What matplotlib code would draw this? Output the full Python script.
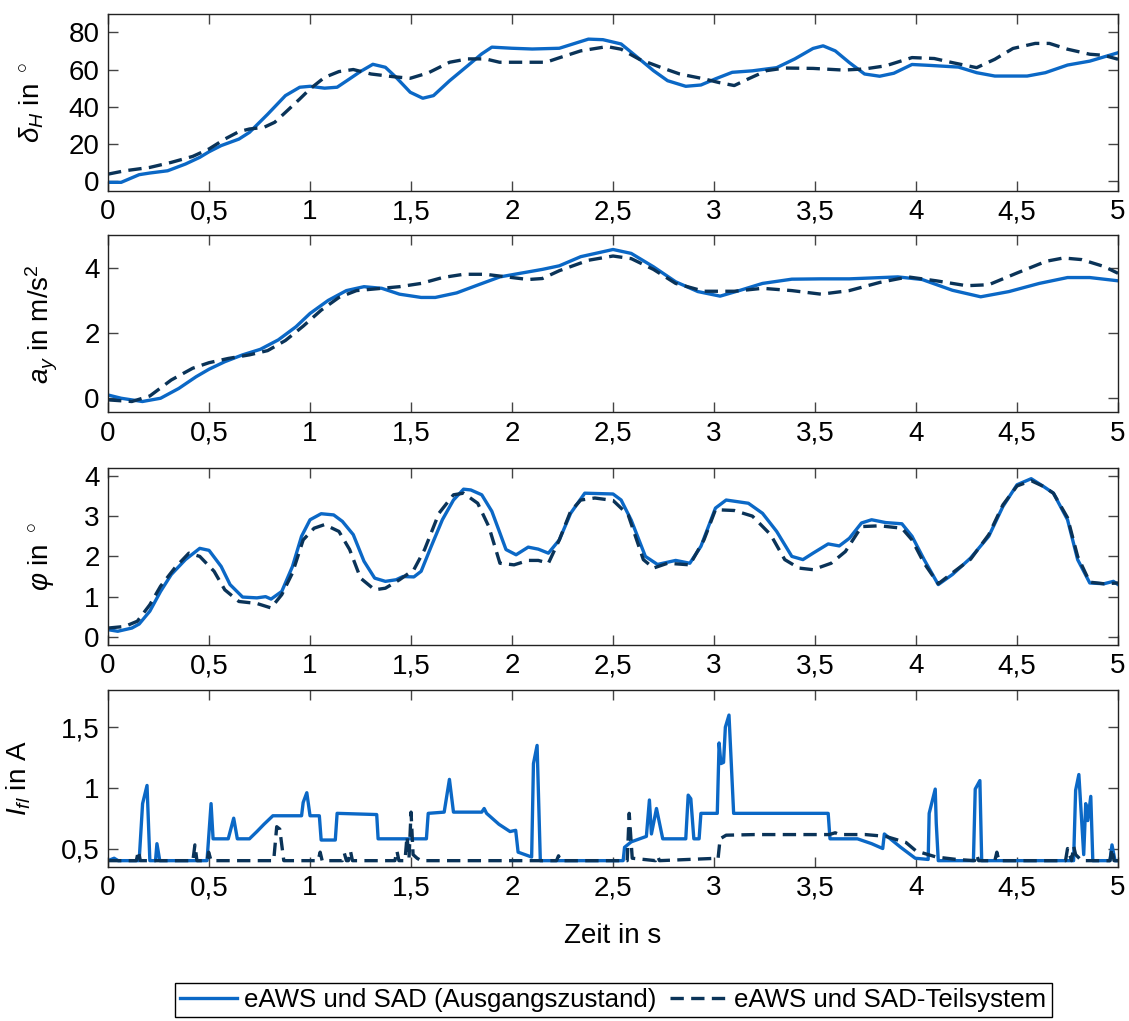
import matplotlib
matplotlib.use("Agg")
import matplotlib.pyplot as plt
import matplotlib.ticker as mticker

plt.rcParams["font.family"] = ["Liberation Sans", "DejaVu Sans"]
plt.rcParams["mathtext.fontset"] = "custom"
plt.rcParams["mathtext.rm"] = "Liberation Sans"
plt.rcParams["mathtext.it"] = "Liberation Sans:italic"

# steering wheel angle delta_H in deg
t1_solid = [0, 0.065, 0.154, 0.207, 0.295, 0.383, 0.454, 0.5, 0.56, 0.648, 0.70, 0.79, 0.878,
            0.949, 1.0, 1.072, 1.134, 1.196, 1.249, 1.311, 1.373, 1.426, 1.496, 1.558, 1.611,
            1.691, 1.78, 1.85, 1.90, 2.0, 2.1, 2.234, 2.378, 2.45, 2.54, 2.61, 2.70, 2.77, 2.86,
            2.935, 3.007, 3.09, 3.19, 3.31, 3.40, 3.49, 3.54, 3.60, 3.67, 3.745, 3.82, 3.89, 3.98,
            4.07, 4.21, 4.30, 4.39, 4.55, 4.64, 4.75, 4.86, 5.0]
d1_solid = [-0.5, -0.5, 3.6, 4.5, 5.7, 9.3, 12.9, 15.9, 19.2, 22.7, 26.3, 36, 46,
            50.5, 51, 50, 50.5, 55, 58.9, 62.8, 61.2, 55.8, 47.8, 44.6, 46,
            54, 62, 68.4, 72, 71.4, 71, 71.4, 76.3, 76, 73.7, 67.5, 59.4, 54, 51,
            51.7, 55, 58.5, 59.3, 61, 65.7, 71.3, 72.7, 70, 63.7, 57.6, 56.4, 58, 62.7,
            62.2, 61.3, 58.3, 56.5, 56.5, 58.3, 62.4, 64.5, 69]
t1_dash = [0, 0.083, 0.207, 0.313, 0.419, 0.5, 0.578, 0.648, 0.70, 0.772, 0.825, 0.878, 0.949,
           1.0, 1.072, 1.143, 1.214, 1.302, 1.408, 1.496, 1.585, 1.691, 1.78, 1.868, 1.938,
           2.08, 2.168, 2.234, 2.34, 2.47, 2.54, 2.63, 2.74, 2.83, 2.95, 3.025, 3.10, 3.17,
           3.26, 3.35, 3.49, 3.64, 3.745, 3.85, 3.98, 4.09, 4.18, 4.30, 4.39, 4.48, 4.59,
           4.66, 4.75, 4.86, 4.93, 5.0]
d1_dash = [3.9, 5.7, 7.5, 10.2, 13.4, 17.4, 22.7, 26.7, 28.1, 29, 31.7, 37, 44.2,
           49.6, 55.8, 58.9, 60, 57.6, 56.2, 55.3, 58.2, 63.9, 65.7, 65.7, 63.9,
           63.9, 63.9, 66.3, 70, 72.3, 70.9, 65.5, 61, 57.6, 55, 53, 51.4, 55,
           59.4, 60.8, 60.6, 59.7, 60.3, 62, 66.4, 65.9, 63.7, 61, 65.5, 71.3, 74,
           74, 70.9, 68.2, 67.6, 65.5]

# lateral acceleration a_y in m/s^2
t2_solid = [0, 0.065, 0.17, 0.26, 0.35, 0.436, 0.5, 0.578, 0.666, 0.754, 0.843, 0.93, 1.0,
            1.09, 1.18, 1.267, 1.355, 1.443, 1.55, 1.62, 1.726, 1.83, 1.94, 2.04, 2.15,
            2.234, 2.34, 2.5, 2.59, 2.70, 2.81, 2.92, 3.03, 3.13, 3.24, 3.385, 3.53, 3.67,
            3.91, 4.03, 4.18, 4.32, 4.46, 4.61, 4.75, 4.86, 5.0]
a2_solid = [0.1, 0.0, -0.1, 0.0, 0.3, 0.66, 0.89, 1.12, 1.33, 1.5, 1.79, 2.19, 2.6,
            3.0, 3.3, 3.42, 3.37, 3.19, 3.09, 3.09, 3.23, 3.47, 3.72, 3.83, 3.95,
            4.06, 4.34, 4.56, 4.44, 4.03, 3.57, 3.27, 3.13, 3.31, 3.52, 3.65, 3.66, 3.66,
            3.72, 3.64, 3.31, 3.11, 3.27, 3.52, 3.7, 3.7, 3.6]
t2_dash = [0, 0.118, 0.207, 0.313, 0.419, 0.5, 0.595, 0.70, 0.79, 0.878, 0.966, 1.055, 1.143,
           1.23, 1.337, 1.443, 1.55, 1.656, 1.76, 1.868, 1.973, 2.08, 2.15, 2.234, 2.378,
           2.5, 2.59, 2.70, 2.81, 2.95, 3.10, 3.24, 3.385, 3.53, 3.67, 3.82, 3.96, 4.10,
           4.25, 4.36, 4.5, 4.645, 4.73, 4.82, 4.93, 5.0]
a2_dash = [-0.05, -0.1, 0.07, 0.56, 0.92, 1.09, 1.22, 1.33, 1.46, 1.77, 2.21, 2.7, 3.09,
           3.3, 3.36, 3.42, 3.52, 3.7, 3.8, 3.8, 3.72, 3.64, 3.67, 3.91, 4.23,
           4.36, 4.28, 3.95, 3.52, 3.28, 3.28, 3.37, 3.3, 3.19, 3.3, 3.55, 3.72, 3.6,
           3.45, 3.48, 3.84, 4.2, 4.3, 4.25, 4.04, 3.83]

# roll angle phi in deg
t3_solid = [0, 0.048, 0.118, 0.154, 0.207, 0.26, 0.313, 0.383, 0.454, 0.5, 0.56, 0.604, 0.666,
            0.737, 0.78, 0.807, 0.86, 0.913, 0.958, 1.0, 1.055, 1.117, 1.16, 1.214, 1.267,
            1.32, 1.373, 1.426, 1.46, 1.514, 1.55, 1.60, 1.655, 1.71, 1.76, 1.796, 1.85, 1.90,
            1.94, 1.97, 2.02, 2.08, 2.13, 2.18, 2.234, 2.29, 2.36, 2.5, 2.54, 2.59, 2.66,
            2.72, 2.81, 2.88, 2.935, 3.007, 3.06, 3.17, 3.24, 3.31, 3.385, 3.44, 3.49, 3.565,
            3.62, 3.67, 3.73, 3.78, 3.85, 3.93, 3.98, 4.04, 4.11, 4.18, 4.27, 4.36, 4.43,
            4.5, 4.57, 4.63, 4.68, 4.75, 4.80, 4.86, 4.93, 4.977, 5.0]
p3_solid = [0.18, 0.14, 0.22, 0.32, 0.64, 1.13, 1.55, 1.92, 2.2, 2.15, 1.75, 1.3, 0.99,
            0.97, 1.0, 0.94, 1.13, 1.75, 2.5, 2.91, 3.06, 3.03, 2.87, 2.54, 1.88,
            1.46, 1.38, 1.42, 1.5, 1.49, 1.63, 2.25, 2.91, 3.4, 3.67, 3.65, 3.53, 3.12,
            2.58, 2.17, 2.04, 2.23, 2.18, 2.08, 2.41, 3.07, 3.57, 3.55, 3.4, 2.9, 2.0,
            1.8, 1.9, 1.83, 2.25, 3.2, 3.4, 3.32, 3.07, 2.62, 2.0, 1.92, 2.08, 2.31,
            2.26, 2.45, 2.83, 2.91, 2.84, 2.81, 2.5, 1.92, 1.3, 1.55, 1.96, 2.5, 3.24,
            3.78, 3.93, 3.74, 3.57, 2.91, 1.92, 1.34, 1.32, 1.38, 1.3]
t3_dash = [0, 0.083, 0.145, 0.207, 0.26, 0.33, 0.40, 0.454, 0.525, 0.578, 0.648, 0.737, 0.807,
           0.86, 0.913, 0.966, 1.02, 1.072, 1.143, 1.196, 1.25, 1.32, 1.373, 1.443, 1.514,
           1.567, 1.638, 1.71, 1.76, 1.83, 1.885, 1.94, 2.01, 2.08, 2.13, 2.18, 2.234, 2.29,
           2.34, 2.41, 2.5, 2.575, 2.65, 2.70, 2.77, 2.88, 2.95, 3.007, 3.10, 3.19, 3.28,
           3.35, 3.42, 3.49, 3.58, 3.65, 3.73, 3.82, 3.93, 3.98, 4.04, 4.11, 4.18, 4.27,
           4.36, 4.43, 4.5, 4.57, 4.63, 4.68, 4.75, 4.80, 4.86, 4.93, 5.0]
p3_dash = [0.22, 0.26, 0.39, 0.8, 1.26, 1.71, 2.08, 2.0, 1.63, 1.17, 0.88, 0.83, 0.72,
           1.05, 1.59, 2.41, 2.7, 2.79, 2.62, 2.17, 1.46, 1.17, 1.21, 1.42, 1.67,
           2.17, 3.07, 3.53, 3.57, 3.32, 2.74, 1.83, 1.79, 1.9, 1.9, 1.83, 2.41, 3.12,
           3.4, 3.45, 3.39, 3.03, 1.92, 1.71, 1.83, 1.79, 2.41, 3.16, 3.14, 3.0, 2.54,
           1.92, 1.71, 1.67, 1.83, 2.12, 2.74, 2.76, 2.7, 2.41, 1.83, 1.32, 1.59, 1.93,
           2.54, 3.28, 3.75, 3.88, 3.74, 3.57, 2.96, 2.0, 1.36, 1.32, 1.34]

# field current I_fl in A
t4_solid = [0, 0.03, 0.05, 0.154, 0.171, 0.193, 0.207, 0.235, 0.242, 0.256, 0.49, 0.51, 0.52,
            0.595, 0.622, 0.64, 0.70, 0.737, 0.772, 0.816, 0.958, 0.966, 0.984, 1.0, 1.046,
            1.055, 1.125, 1.134, 1.33, 1.337, 1.576, 1.585, 1.664, 1.69, 1.71, 1.85, 1.862,
            1.874, 1.935, 1.99, 2.018, 2.03, 2.097, 2.106, 2.124, 2.14, 2.55, 2.557, 2.59,
            2.665, 2.68, 2.69, 2.715, 2.746, 2.86, 2.872, 2.885, 2.9, 2.926, 2.935, 3.016,
            3.025, 3.034, 3.047, 3.056, 3.074, 3.097, 3.565, 3.574, 3.71, 3.78, 3.835, 3.843,
            3.924, 3.996, 4.06, 4.065, 4.095, 4.10, 4.11, 4.284, 4.293, 4.316, 4.325, 4.78,
            4.79, 4.806, 4.83, 4.84, 4.85, 4.865, 4.875, 4.96, 4.97, 4.985, 5.0]
i4_solid = [0.4, 0.42, 0.4, 0.4, 0.87, 1.02, 0.4, 0.4, 0.54, 0.4, 0.4, 0.87, 0.58,
            0.58, 0.75, 0.58, 0.58, 0.64, 0.7, 0.77, 0.77, 0.88, 0.96, 0.77, 0.77,
            0.57, 0.57, 0.79, 0.78, 0.58, 0.58, 0.79, 0.8, 1.07, 0.8, 0.8, 0.83,
            0.79, 0.7, 0.64, 0.65, 0.47, 0.43, 1.2, 1.35, 0.4, 0.4, 0.51, 0.555,
            0.6, 0.9, 0.62, 0.83, 0.58, 0.58, 0.94, 0.91, 0.58, 0.58, 0.79, 0.79,
            1.37, 1.2, 1.21, 1.5, 1.6, 0.79, 0.79, 0.58, 0.58, 0.54, 0.5, 0.62,
            0.51, 0.42, 0.41, 0.79, 0.99, 0.71, 0.4, 0.4, 0.99, 1.06, 0.4, 0.4,
            0.98, 1.11, 0.45, 0.87, 0.73, 0.93, 0.4, 0.4, 0.53, 0.4, 0.4]
t4_dash = [0, 0.14, 0.15, 0.16, 0.42, 0.43, 0.44, 0.49, 0.498, 0.51, 0.82, 0.835, 0.85, 0.87,
           1.04, 1.05, 1.06, 1.16, 1.17, 1.18, 1.19, 1.2, 1.21, 1.42, 1.43, 1.44, 1.47, 1.48,
           1.49, 1.5, 1.51, 1.53, 1.55, 2.22, 2.23, 2.24, 2.57, 2.58, 2.595, 2.71, 2.72,
           2.73, 3.02, 3.03, 3.06, 3.2, 3.57, 3.6, 3.62, 3.75, 3.85, 3.95, 4.0, 4.1, 4.2,
           4.29, 4.3, 4.31, 4.39, 4.4, 4.41, 4.5, 4.74, 4.75, 4.77, 4.78, 4.79, 4.82, 4.96,
           4.97, 4.98, 5.0]
i4_dash = [0.4, 0.4, 0.48, 0.4, 0.4, 0.53, 0.4, 0.4, 0.47, 0.4, 0.4, 0.68, 0.66, 0.4,
           0.4, 0.47, 0.4, 0.4, 0.46, 0.4, 0.4, 0.48, 0.4, 0.4, 0.48, 0.4, 0.4, 0.6,
           0.42, 0.8, 0.45, 0.42, 0.4, 0.4, 0.44, 0.4, 0.4, 0.79, 0.42, 0.4, 0.44,
           0.4, 0.42, 0.58, 0.61, 0.615, 0.615, 0.63, 0.615, 0.615, 0.6, 0.55, 0.48, 0.43, 0.41,
           0.4, 0.45, 0.4, 0.4, 0.47, 0.4, 0.4, 0.4, 0.5, 0.4, 0.52, 0.45, 0.4, 0.4,
           0.5, 0.4, 0.4]

x_ticks = [0, 0.5, 1, 1.5, 2, 2.5, 3, 3.5, 4, 4.5, 5]

blue = "#0B68C6"
navy = "#0A3358"
lw = 2.4
fs = 20


def comma(v, pos):
    s = f"{v:g}"
    return s.replace(".", ",")


fig = plt.figure(figsize=(11.29, 10.21), dpi=100)
bottoms = [0.8132, 0.5962, 0.3683, 0.1511]
axes = [fig.add_axes([0.0957, b, 0.8946, 0.1735]) for b in bottoms]

panels = [
    (t1_solid, d1_solid, t1_dash, d1_dash, (-5, 90), [0, 20, 40, 60, 80],
     r"$\delta_H$ in $^\circ$", -0.061),
    (t2_solid, a2_solid, t2_dash, a2_dash, (-0.43, 5.0), [0, 2, 4],
     r"$a_y$ in m/s$^2$", -0.048),
    (t3_solid, p3_solid, t3_dash, p3_dash, (-0.2, 4.2), [0, 1, 2, 3, 4],
     r"$\varphi$ in $^\circ$", -0.052),
    (t4_solid, i4_solid, t4_dash, i4_dash, (0.35, 1.81), [0.5, 1, 1.5],
     r"$I_{fl}$ in A", -0.074),
]

for ax, (ts, ys, td, yd, ylim, yticks, ylabel, lx) in zip(axes, panels):
    ax.plot(ts, ys, color=blue, lw=lw, solid_joinstyle="round",
            label="eAWS und SAD (Ausgangszustand)")
    ax.plot(td, yd, color=navy, lw=lw, dashes=(4, 2.2),
            label="eAWS und SAD-Teilsystem")
    ax.set_xlim(0, 5)
    ax.set_ylim(*ylim)
    ax.set_xticks(x_ticks)
    ax.set_yticks(yticks)
    ax.xaxis.set_major_formatter(mticker.FuncFormatter(comma))
    ax.yaxis.set_major_formatter(mticker.FuncFormatter(comma))
    ax.tick_params(direction="in", top=True, right=True, length=7, width=1,
                   color="#444444", labelsize=fs)
    ax.tick_params(axis="x", pad=6)
    ax.tick_params(axis="y", pad=6)
    for sp in ax.spines.values():
        sp.set_linewidth(1)
        sp.set_color("#222222")
    ax.set_ylabel(ylabel, fontsize=fs)
    ax.yaxis.set_label_coords(lx, 0.5)

axes[-1].set_xlabel("Zeit in s", fontsize=fs, labelpad=16)

handles, labels = axes[-1].get_legend_handles_labels()
fig.legend(handles, labels, loc="center", bbox_to_anchor=(0.543, 0.0206), ncol=2,
           fontsize=18.6, frameon=True, fancybox=False, edgecolor="black", framealpha=1,
           handlelength=2.2, handletextpad=0.3, columnspacing=0.5, borderpad=0.2,
           borderaxespad=0)

fig.savefig("out.png", dpi=100)
